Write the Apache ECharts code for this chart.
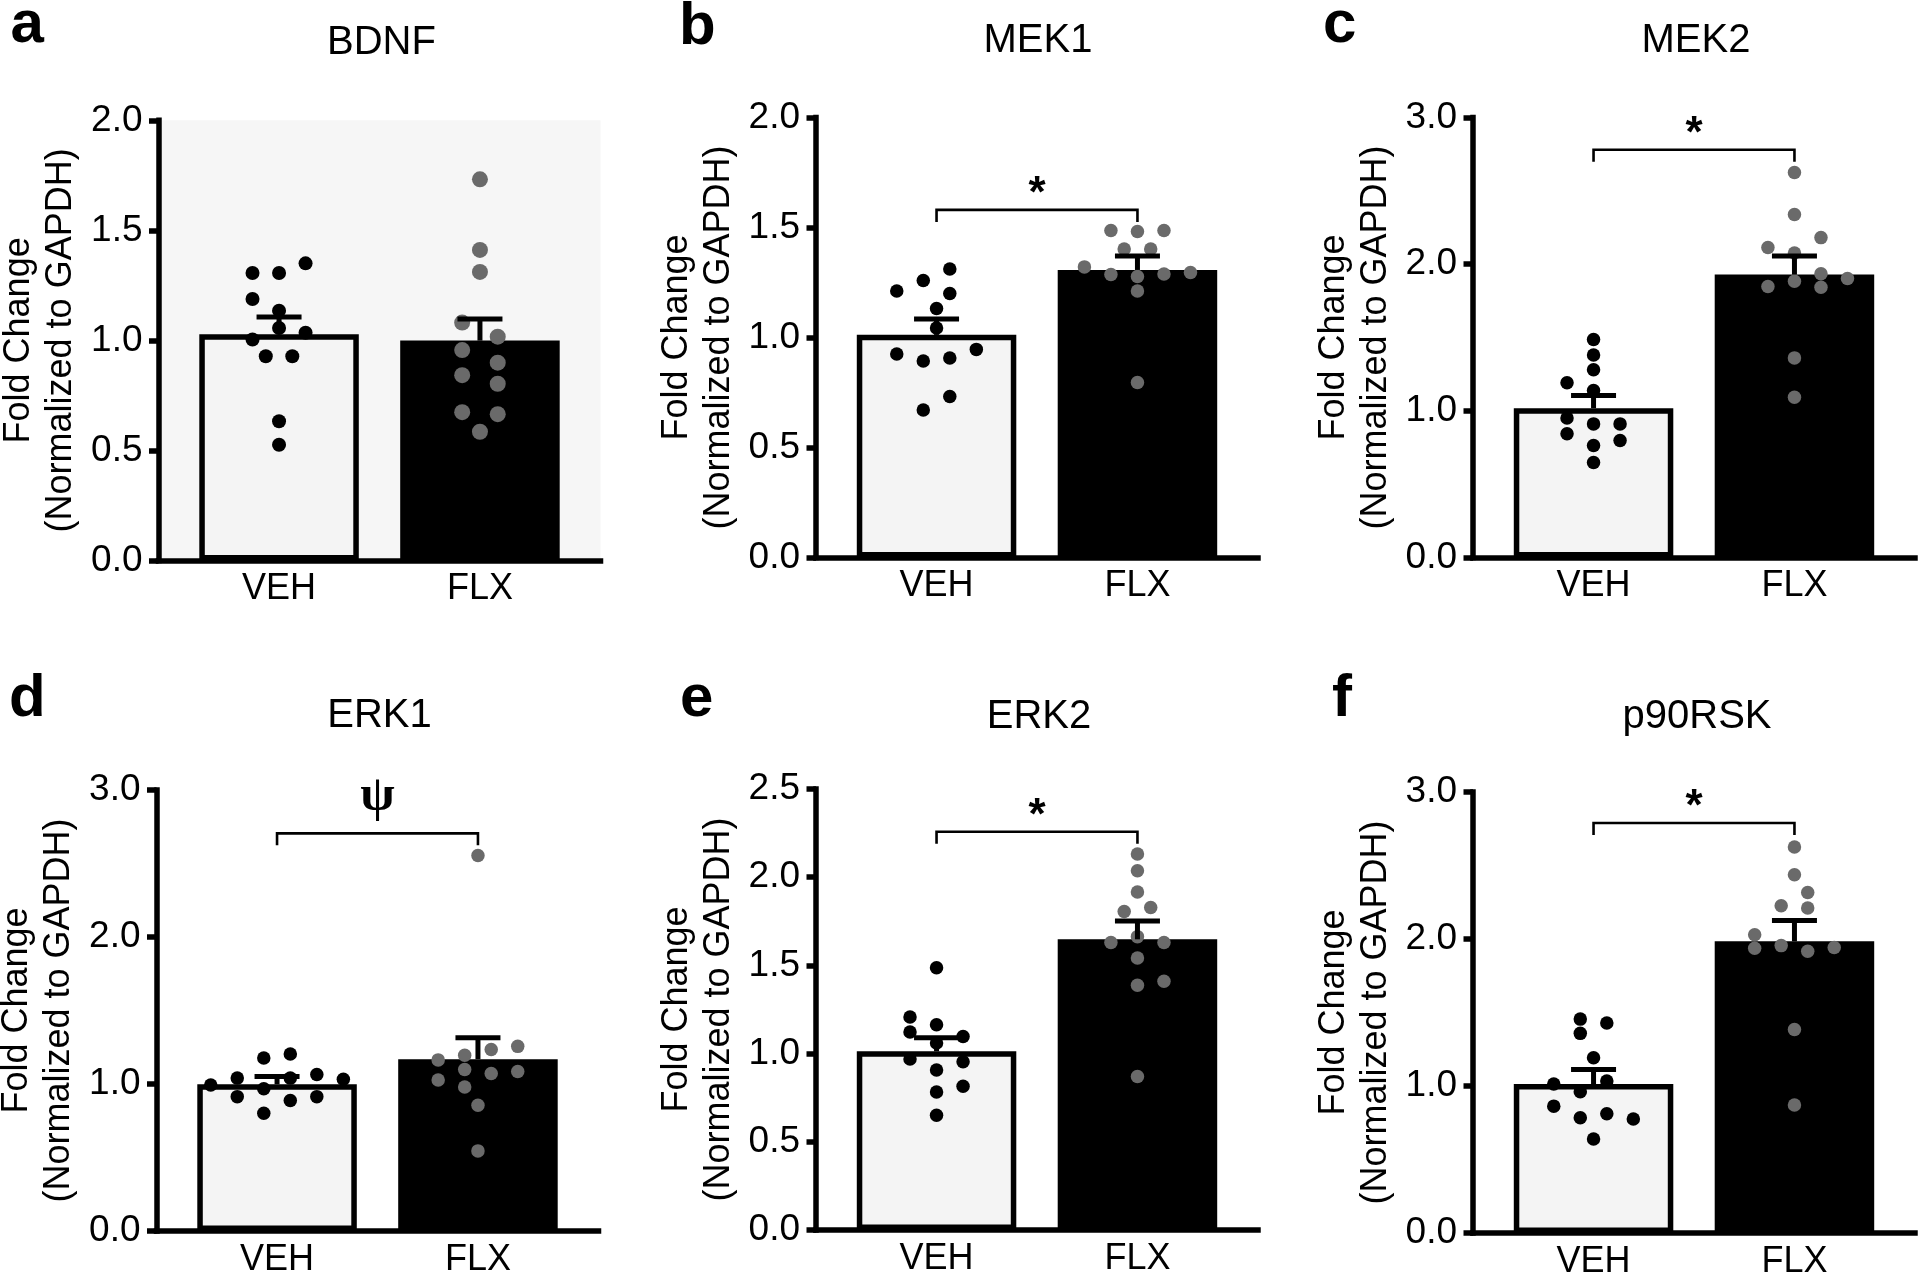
<!DOCTYPE html>
<html>
<head>
<meta charset="utf-8">
<script src="https://cdn.jsdelivr.net/npm/echarts@6/dist/echarts.min.js"></script>
<style>
html,body{margin:0;padding:0;background:#fff;}
#c{width:1920px;height:1272px;}
</style>
</head>
<body>
<div id="c"></div>
<script>
// ---------------- data ----------------
const categories = ['VEH', 'FLX'];
const panelLetters = ['a', 'b', 'c', 'd', 'e', 'f'];
const panelTitles = ['BDNF', 'MEK1', 'MEK2', 'ERK1', 'ERK2', 'p90RSK'];
const yMaxes = [2.0, 2.0, 3.0, 3.0, 2.5, 3.0];
const yIntervals = [0.5, 0.5, 1.0, 1.0, 0.5, 1.0];

const vehMeans = [1.028, 1.012, 1.018, 0.998, 1.013, 1.013];
const flxMeans = [0.999, 1.307, 1.929, 1.169, 1.648, 1.984];
const vehSEM = [0.078, 0.072, 0.086, 0.053, 0.077, 0.100];
const flxSEM = [0.098, 0.063, 0.126, 0.145, 0.103, 0.142];

const sigMarks = ['', '*', '*', 'ψ', '*', '*'];
const sigBracketY = [null, 1.58, 2.78, 2.705, 2.258, 2.789];

// individual values
const bdnfVEH = [1.306, 1.306, 1.350, 1.188, 1.135, 1.056, 1.004, 1.035, 0.928, 0.928, 0.633, 0.526];
const bdnfFLX = [1.732, 1.411, 1.311, 1.081, 1.017, 0.956, 0.899, 0.842, 0.803, 0.674, 0.665, 0.585];
const mek1VEH = [1.311, 1.259, 1.211, 1.200, 1.132, 1.043, 0.925, 0.946, 0.893, 0.907, 0.732, 0.670];
const mek1FLX = [1.486, 1.482, 1.486, 1.402, 1.402, 1.321, 1.286, 1.277, 1.289, 1.295, 1.211, 0.795];
const mek2VEH = [1.487, 1.380, 1.280, 1.192, 1.138, 0.951, 0.911, 0.911, 0.844, 0.798, 0.763, 0.648];
const mek2FLX = [2.625, 2.339, 2.181, 2.114, 2.076, 1.934, 1.848, 1.883, 1.843, 1.902, 1.361, 1.093];
const erk1VEH = [0.993, 1.040, 1.177, 1.204, 0.914, 0.967, 1.040, 0.888, 1.064, 0.914, 1.032, 0.801];
const erk1FLX = [2.555, 1.164, 1.196, 1.235, 1.256, 1.027, 1.098, 1.072, 1.085, 0.980, 0.856, 0.545];
const erk2VEH = [1.487, 1.207, 1.163, 1.123, 1.097, 1.060, 0.969, 0.954, 0.907, 0.815, 0.782, 0.650];
const erk2FLX = [2.132, 2.037, 1.916, 1.806, 1.828, 1.630, 1.663, 1.630, 1.542, 1.388, 1.410, 0.870];
const p90VEH = [1.455, 1.429, 1.358, 1.192, 1.013, 1.034, 0.961, 0.863, 0.784, 0.811, 0.776, 0.639];
const p90FLX = [2.626, 2.437, 2.316, 2.226, 2.211, 2.029, 1.937, 1.955, 1.916, 1.942, 1.384, 0.871];

// horizontal spread of the dots (in dot-steps)
const bdnfVEHjit = [-1, 0, 1, -1, 0, 0, -1, 1, -0.5, 0.5, 0, 0];
const bdnfFLXjit = [0, 0, 0, -0.67, 0.67, -0.67, 0.67, -0.67, 0.67, -0.67, 0.67, 0];
const mek1VEHjit = [0.5, -0.5, -1.5, 0.5, 0, 0, -1.5, 1.5, -0.5, 0.5, 0.5, -0.5];
const mek1FLXjit = [-1, 0, 1, -0.5, 0.5, -2, -1, 0, 1, 2, 0, 0];
const mek2VEHjit = [0, 0, 0, -1, 0, -1, 0, 1, -1, 1, 0, 0];
const mek2FLXjit = [0, 0, 1, -1, 0, 1, -1, 0, 1, 2, 0, 0];
const erk1VEHjit = [-2.5, -1.5, -0.5, 0.5, -1.5, -0.5, 0.5, 0.5, 1.5, 1.5, 2.5, -0.5];
const erk1FLXjit = [0, -1.5, -0.5, 0.5, 1.5, -1.5, -0.5, 0.5, 1.5, -0.5, 0, 0];
const erk2VEHjit = [0, -1, 0, -1, 1, 0, -1, 1, 0, 1, 0, 0];
const erk2FLXjit = [0, 0, 0, -0.5, 0.5, -1, 0, 1, 0, 0, 1, 0];
const p90VEHjit = [-0.5, 0.5, -0.5, 0, -1.5, 0.5, -0.5, -1.5, -0.5, 0.5, 1.5, 0];
const p90FLXjit = [0, 0, 0.5, -0.5, 0.5, -1.5, -1.5, -0.5, 0.5, 1.5, 0, 0];

// ---------------- layout / style ----------------
const FONT = "'Liberation Sans', Arial, Helvetica, sans-serif";
const SERIF = "'Liberation Serif', 'DejaVu Serif', serif";
const JSTEP = 0.132;
const vehSets = [bdnfVEH, mek1VEH, mek2VEH, erk1VEH, erk2VEH, p90VEH];
const flxSets = [bdnfFLX, mek1FLX, mek2FLX, erk1FLX, erk2FLX, p90FLX];
const vehJits = [bdnfVEHjit, mek1VEHjit, mek2VEHjit, erk1VEHjit, erk2VEHjit, p90VEHjit];
const flxJits = [bdnfFLXjit, mek1FLXjit, mek2FLXjit, erk1FLXjit, erk2FLXjit, p90FLXjit];
const gridBoxes = [
  [158.5, 120.3, 442, 440.2],
  [816, 117.5, 442, 440],
  [1473, 117.5, 442, 440],
  [156.5, 790, 442, 441],
  [816, 789, 442, 441],
  [1473, 792, 442, 441]
];
const vehDot = [14, 13.5, 13.5, 13.5, 13.5, 13.5];
const flxDot = [16, 13.5, 13.5, 13.5, 13.5, 13.5];
const titlePos = [[381.5, 43], [1038, 41], [1696, 41], [379.5, 716], [1039, 717], [1697, 717]];
const letterPos = [[10.5, 25], [679, 27], [1323, 25], [9, 699], [680, 699], [1332, 699]];

const grid = [], xAxis = [], yAxis = [], series = [], graphic = [];
const AX_W = 5.5;

for (let i = 0; i < 6; i++) {
  const g = gridBoxes[i];
  grid.push({
    left: g[0], top: g[1], width: g[2], height: g[3],
    show: i === 0, backgroundColor: '#f6f6f6', borderWidth: 0,
    containLabel: false, outerBoundsMode: 'none'
  });
  xAxis.push({
    gridIndex: i, type: 'value', min: -0.6, max: 1.6, interval: 0.2,
    axisLine: { show: true, onZero: false, lineStyle: { color: '#000', width: AX_W, cap: 'square' } },
    axisTick: { show: false }, splitLine: { show: false },
    axisLabel: {
      margin: 11, fontSize: 36, color: '#000', fontFamily: FONT,
      formatter: v => Math.abs(v) < 1e-6 ? categories[0] : (Math.abs(v - 1) < 1e-6 ? categories[1] : '')
    }
  });
  yAxis.push({
    gridIndex: i, type: 'value', min: 0, max: yMaxes[i], interval: yIntervals[i],
    name: 'Fold Change\n(Normalized to GAPDH)', nameLocation: 'middle', nameGap: 76,
    nameMoveOverlap: false,
    nameTextStyle: { fontSize: 36, lineHeight: 42, color: '#000', fontFamily: FONT },
    axisLine: { show: true, onZero: false, lineStyle: { color: '#000', width: AX_W, cap: 'square' } },
    axisTick: { show: true, inside: false, length: 9.5, lineStyle: { color: '#000', width: AX_W } },
    axisLabel: { margin: 16, fontSize: 37, color: '#000', fontFamily: FONT, formatter: v => v.toFixed(1) },
    splitLine: { show: false }
  });

  series.push({
    type: 'bar', xAxisIndex: i, yAxisIndex: i, barWidth: 159.5, z: 2, silent: true,
    data: [
      { value: [0, vehMeans[i]], itemStyle: { color: '#f4f4f4', borderColor: '#000', borderWidth: AX_W } },
      { value: [1, flxMeans[i]], itemStyle: { color: '#000', borderColor: '#000', borderWidth: AX_W } }
    ]
  });
  series.push({
    type: 'scatter', xAxisIndex: i, yAxisIndex: i, z: 3, silent: true,
    symbol: 'circle', symbolSize: vehDot[i], itemStyle: { color: '#000', opacity: 1 },
    data: vehSets[i].map((v, k) => [0 + vehJits[i][k] * JSTEP, v])
  });
  series.push({
    type: 'scatter', xAxisIndex: i, yAxisIndex: i, z: 3, silent: true,
    symbol: 'circle', symbolSize: flxDot[i], itemStyle: { color: '#6a6a6a', opacity: 1 },
    data: flxSets[i].map((v, k) => [1 + flxJits[i][k] * JSTEP, v])
  });
  series.push({
    type: 'custom', xAxisIndex: i, yAxisIndex: i, z: 4, silent: true,
    data: [[0, vehMeans[i], vehMeans[i] + vehSEM[i]], [1, flxMeans[i], flxMeans[i] + flxSEM[i]]],
    encode: { x: 0, y: [1, 2] },
    renderItem: (params, api) => {
      const x = api.value(0);
      const lo = api.coord([x, api.value(1)]);
      const hi = api.coord([x, api.value(2)]);
      const hw = 22.5;
      return {
        type: 'group', children: [
          { type: 'line', shape: { x1: lo[0], y1: lo[1], x2: hi[0], y2: hi[1] }, style: { stroke: '#000', lineWidth: 5 } },
          { type: 'line', shape: { x1: hi[0] - hw, y1: hi[1], x2: hi[0] + hw, y2: hi[1] }, style: { stroke: '#000', lineWidth: 5 } }
        ]
      };
    }
  });
  if (sigMarks[i]) {
    const mark = sigMarks[i];
    series.push({
      type: 'custom', xAxisIndex: i, yAxisIndex: i, z: 4, silent: true,
      data: [[0, 1, sigBracketY[i]]],
      encode: { x: [0, 1], y: 2 },
      renderItem: (params, api) => {
        const y = api.value(2);
        const p0 = api.coord([api.value(0), y]);
        const p1 = api.coord([api.value(1), y]);
        const drop = 12;
        const psi = mark === 'ψ';
        return {
          type: 'group', children: [
            { type: 'polyline', shape: { points: [[p0[0], p0[1] + drop], [p0[0], p0[1]], [p1[0], p1[1]], [p1[0], p1[1] + drop]] },
              style: { stroke: '#000', lineWidth: 2.6, fill: 'none' } },
            { type: 'text', x: (p0[0] + p1[0]) / 2, y: p0[1] - (psi ? 36.5 : 15),
              style: { text: mark, fill: '#000', font: psi ? ('bold 50px ' + SERIF) : ('bold 44px ' + FONT),
                align: 'center', verticalAlign: 'middle', textAlign: 'center', textVerticalAlign: 'middle' } }
          ]
        };
      }
    });
  }

  graphic.push({
    type: 'text', x: titlePos[i][0], y: titlePos[i][1], silent: true,
    style: { text: panelTitles[i], font: '40px ' + FONT, fill: '#000',
      align: 'center', verticalAlign: 'middle', textAlign: 'center', textVerticalAlign: 'middle' }
  });
  graphic.push({
    type: 'text', x: letterPos[i][0], y: letterPos[i][1], silent: true,
    style: { text: panelLetters[i], font: 'bold 60px ' + FONT, fill: '#000',
      align: 'left', verticalAlign: 'middle', textAlign: 'left', textVerticalAlign: 'middle' }
  });
}

const chart = echarts.init(document.getElementById('c'), null, { renderer: 'canvas' });
chart.setOption({
  animation: false,
  backgroundColor: '#fff',
  grid, xAxis, yAxis, series, graphic
});
</script>
</body>
</html>
